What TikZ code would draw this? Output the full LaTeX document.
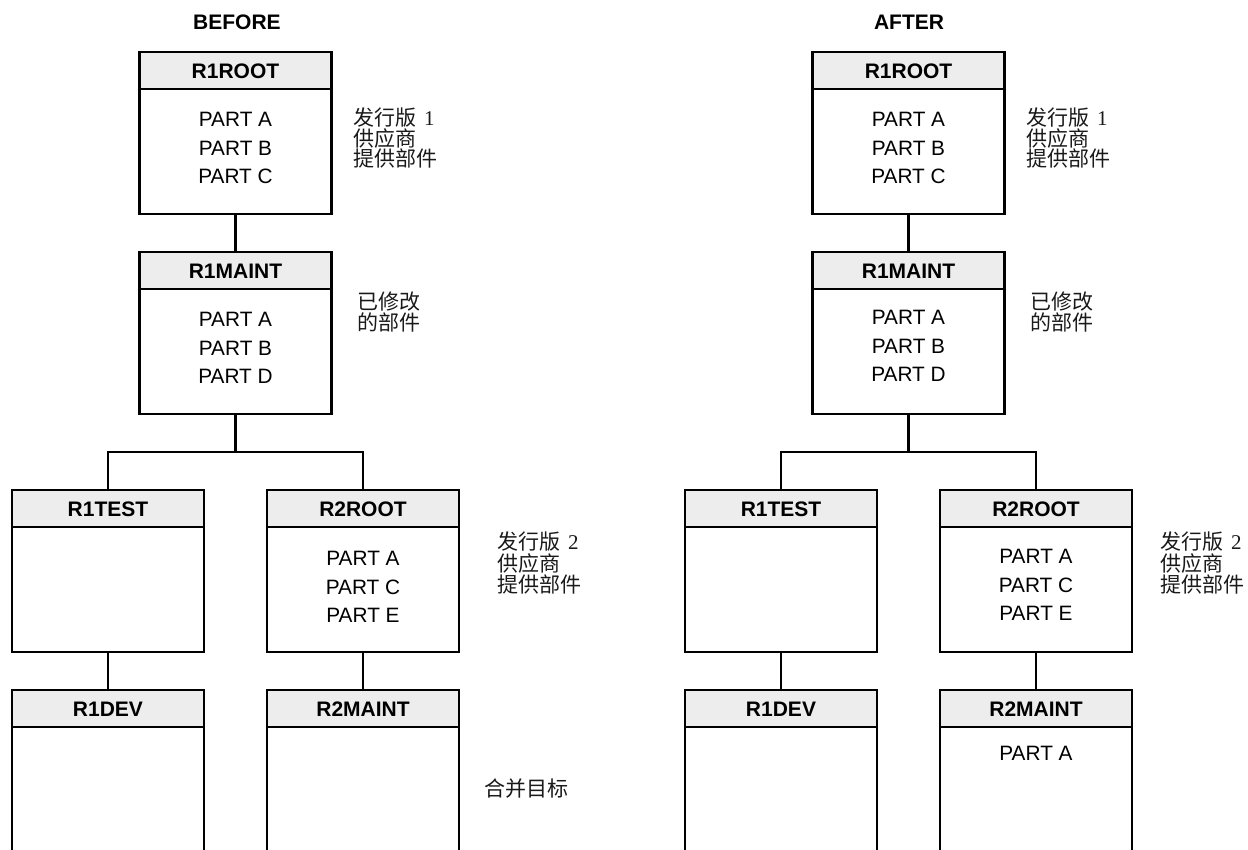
\documentclass[tikz,border=0pt]{standalone}
\usepackage{fontspec}
\setmainfont{Liberation Sans}
\newfontfamily\cjk{Noto Sans CJK SC}
\newfontfamily\numfont{Liberation Serif}
\usepackage{xcolor}
\definecolor{RLHead}{HTML}{EDEDED}
\definecolor{RLLine}{HTML}{000000}
\definecolor{RLNote}{HTML}{1A1A1A}

\begin{document}
\begin{tikzpicture}[x=1pt,y=-1pt,
  relbox/.style={draw=RLLine,line width=2.9pt,minimum width=192pt,minimum height=162pt,inner sep=0pt,
    path picture={\fill[RLHead] (path picture bounding box.north west) rectangle ([yshift=-37pt]path picture bounding box.north east);
      \draw[RLLine,line width=1.2pt] ([yshift=-37pt]path picture bounding box.north west) -- ([yshift=-37pt]path picture bounding box.north east);}},
  relname/.style={font=\bfseries\fontsize{21}{24}\selectfont,inner sep=0pt},
  parts/.style={align=center,font=\fontsize{20.8}{28.5}\selectfont,inner sep=0pt},
  note/.style={anchor=west,align=left,inner sep=0pt,text=RLNote,font=\cjk\fontsize{21}{20.5}\selectfont},
  link/.style={draw=RLLine,line width=2.4pt}]
\clip (0,0) rectangle (1248,849);
\fill[white] (0,0) rectangle (1248,849);
% before
\node[relname] (b-title) at (237,22) {BEFORE};
\node[relbox] (b-r1root) at (235.5,133) {};
\node[relbox] (b-r1maint) at (235.5,333) {};
\node[relbox] (b-r1test) at (108,571) {};
\node[relbox] (b-r2root) at (363,571) {};
\node[relbox] (b-r1dev) at (108,771) {};
\node[relbox] (b-r2maint) at (363,771) {};
\node[relname] (b-r1root-n) at ([yshift=-21pt]b-r1root.north) {R1ROOT};
\node[relname] (b-r1maint-n) at ([yshift=-21pt]b-r1maint.north) {R1MAINT};
\node[relname] (b-r1test-n) at ([yshift=-21pt]b-r1test.north) {R1TEST};
\node[relname] (b-r2root-n) at ([yshift=-21pt]b-r2root.north) {R2ROOT};
\node[relname] (b-r1dev-n) at ([yshift=-21pt]b-r1dev.north) {R1DEV};
\node[relname] (b-r2maint-n) at ([yshift=-21pt]b-r2maint.north) {R2MAINT};
\node[parts] (b-r1root-p) at (235.5,148) {PART A\\PART B\\PART C};
\node[parts] (b-r1maint-p) at (235.5,348) {PART A\\PART B\\PART D};
\node[parts] (b-r2root-p) at (363,587) {PART A\\PART C\\PART E};
\node[note] (b-rel1) at (353,138) {发行版\hspace{8pt}{\numfont 1}\\供应商\\提供部件};
\node[note] (b-mod) at (357,312) {已修改\\的部件};
\node[note,font=\cjk\fontsize{21}{21.5}\selectfont] (b-rel2) at (497,563) {发行版\hspace{8pt}{\numfont 2}\\供应商\\提供部件};
\node[note] (b-target) at (484,789) {合并目标};
\coordinate (b-fork) at (235.5,452);
\draw[link] (b-r1root) -- (b-r1maint);
\draw[link] (b-r1maint) -- (b-fork);
\draw[link] (b-r1test.north) |- (b-fork) -| (b-r2root.north);
\draw[link] (b-r1test) -- (b-r1dev);
\draw[link] (b-r2root) -- (b-r2maint);
% after
\node[relname] (a-title) at (909,22) {AFTER};
\node[relbox] (a-r1root) at (908.5,133) {};
\node[relbox] (a-r1maint) at (908.5,333) {};
\node[relbox] (a-r1test) at (781,571) {};
\node[relbox] (a-r2root) at (1036,571) {};
\node[relbox] (a-r1dev) at (781,771) {};
\node[relbox] (a-r2maint) at (1036,771) {};
\node[relname] (a-r1root-n) at ([yshift=-21pt]a-r1root.north) {R1ROOT};
\node[relname] (a-r1maint-n) at ([yshift=-21pt]a-r1maint.north) {R1MAINT};
\node[relname] (a-r1test-n) at ([yshift=-21pt]a-r1test.north) {R1TEST};
\node[relname] (a-r2root-n) at ([yshift=-21pt]a-r2root.north) {R2ROOT};
\node[relname] (a-r1dev-n) at ([yshift=-21pt]a-r1dev.north) {R1DEV};
\node[relname] (a-r2maint-n) at ([yshift=-21pt]a-r2maint.north) {R2MAINT};
\node[parts] (a-r1root-p) at (908.5,148) {PART A\\PART B\\PART C};
\node[parts] (a-r1maint-p) at (908.5,346) {PART A\\PART B\\PART D};
\node[parts] (a-r2root-p) at (1036,585) {PART A\\PART C\\PART E};
\node[parts] (a-r2maint-p) at (1036,753) {PART A};
\node[note] (a-rel1) at (1026,138) {发行版\hspace{8pt}{\numfont 1}\\供应商\\提供部件};
\node[note] (a-mod) at (1030,312) {已修改\\的部件};
\node[note,font=\cjk\fontsize{21}{21.5}\selectfont] (a-rel2) at (1160,563) {发行版\hspace{8pt}{\numfont 2}\\供应商\\提供部件};
\coordinate (a-fork) at (908.5,452);
\draw[link] (a-r1root) -- (a-r1maint);
\draw[link] (a-r1maint) -- (a-fork);
\draw[link] (a-r1test.north) |- (a-fork) -| (a-r2root.north);
\draw[link] (a-r1test) -- (a-r1dev);
\draw[link] (a-r2root) -- (a-r2maint);
\end{tikzpicture}
\end{document}
